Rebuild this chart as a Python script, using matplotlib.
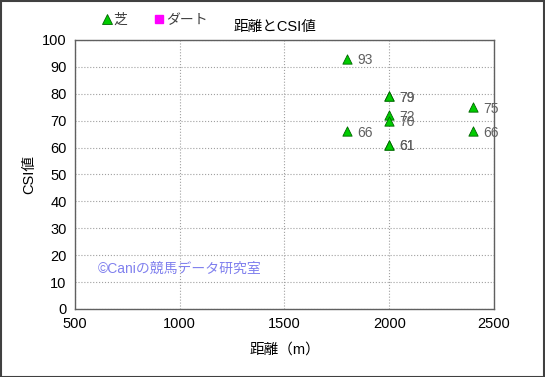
import matplotlib
matplotlib.use("Agg")
import matplotlib.pyplot as plt
from matplotlib.lines import Line2D

plt.rcParams['font.family'] = ['Liberation Sans', 'Noto Sans CJK JP', 'DejaVu Sans']

# data
turf_distance = [1800, 2000, 2000, 2000, 2000, 2000, 2000, 2400, 1800, 2400]
turf_csi = [93, 79, 79, 72, 70, 61, 61, 75, 66, 66]
dirt_distance = []
dirt_csi = []

x_ticks = [500, 1000, 1500, 2000, 2500]
y_ticks = list(range(0, 101, 10))

fig = plt.figure(figsize=(5.45, 3.77), dpi=100)
fig.patches.append(plt.Rectangle((0.001, 0.001), 0.997, 0.997, transform=fig.transFigure,
                                 fill=False, edgecolor='#404040', linewidth=1.5))
ax = fig.add_axes([0.1376, 0.1804, 0.7688, 0.7135])

ax.scatter(turf_distance, turf_csi, marker='^', s=45, color='#00cc00',
           edgecolors='#006600', linewidths=0.6, zorder=3)
for x, y in zip(turf_distance, turf_csi):
    ax.annotate(str(y), (x, y), xytext=(7, -4), textcoords='offset points',
                fontsize=10, color='#606060', zorder=4)
ax.scatter(dirt_distance, dirt_csi, marker='s', s=30, color='#ff00ff', zorder=3)

ax.set_xlim(500, 2500)
ax.set_ylim(0, 100)
ax.set_xticks(x_ticks)
ax.set_yticks(y_ticks)
ax.tick_params(length=0, labelsize=10.5, pad=6, colors='#000000')
ax.grid(True, color='#a0a0a0', linestyle=':', linewidth=0.8)
for s in ax.spines.values():
    s.set_color('#606060')
    s.set_linewidth(1.0)

ax.set_xlabel('距離（m）', fontsize=10.5, labelpad=8)
ax.set_ylabel('CSI値', fontsize=10.5, labelpad=4)

fig.text(0.505, 0.928, '距離とCSI値', fontsize=10.5, ha='center', va='center')

handles = [Line2D([], [], marker='^', linestyle='', markersize=7, markerfacecolor='#00cc00',
                  markeredgecolor='#006600', markeredgewidth=0.6),
           Line2D([], [], marker='s', linestyle='', markersize=6, markerfacecolor='#ff00ff',
                  markeredgecolor='#ff00ff')]
fig.legend(handles, ['芝', 'ダート'], loc='center left', bbox_to_anchor=(0.16, 0.948),
           ncol=2, frameon=False, fontsize=10, handletextpad=0.0, columnspacing=1.8,
           handlelength=1.0, labelcolor='#404040')

ax.text(0.055, 0.135, '©Caniの競馬データ研究室', transform=ax.transAxes, fontsize=10,
        color='#8080ee', zorder=5)

fig.savefig('out.png', dpi=100)
